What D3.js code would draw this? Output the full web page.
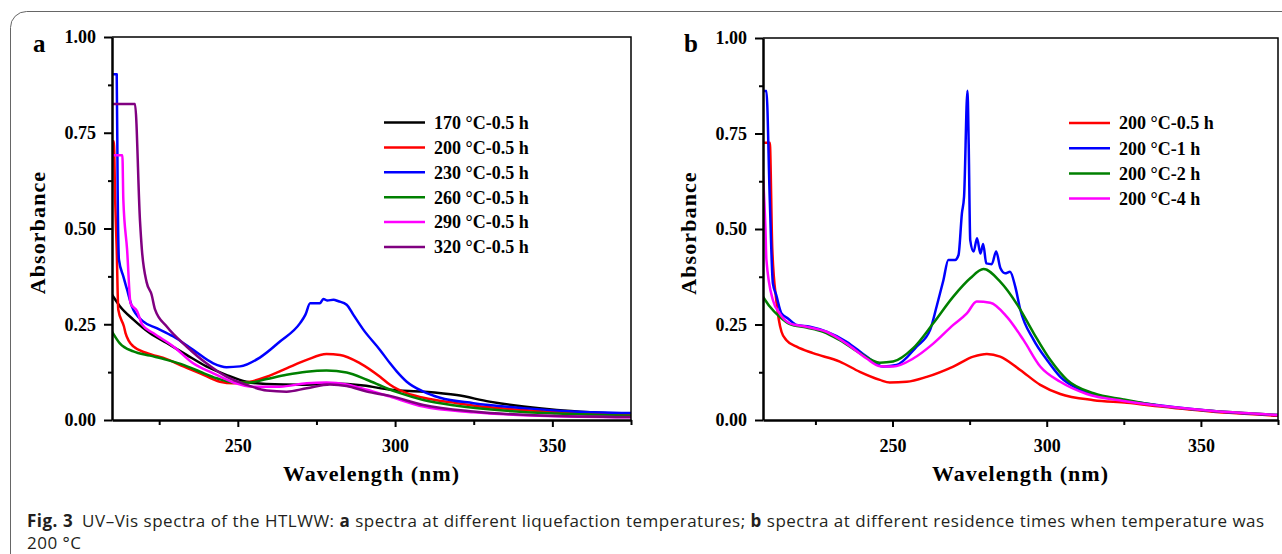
<!DOCTYPE html>
<html>
<head>
<meta charset="utf-8">
<script src="https://cdn.jsdelivr.net/npm/d3@7"></script>
<style>
  body { margin: 0; background: #fff; }
  svg { display: block; }
  .tick text { font-family: "Liberation Serif", "Times New Roman", serif; font-weight: bold; font-size: 18px; fill: #000; }
</style>
</head>
<body>
<figure style="margin:0"></figure>
<script>
// ---- data: [wavelength nm, absorbance] ----
const a170 = [[210,.327],[212.5,.297],[216.8,.262],[222,.227],[227.4,.201],[233.7,.17],[240,.14],[246.3,.118],[252.7,.1],[259,.094],[269.8,.092],[280,.095],[290,.09],[298.4,.079],[309,.074],[319.6,.065],[330,.048],[340.8,.035],[351.4,.026],[362,.02],[375,.015]];
const a200 = [[210.2,.728],[210.6,.728],[211,.576],[211.5,.445],[212,.288],[213.8,.244],[214.3,.227],[216.8,.192],[221,.175],[227.4,.159],[232.7,.14],[238,.122],[244.3,.1],[248.6,.096],[253.9,.1],[259.2,.113],[265.5,.135],[271.9,.157],[278.2,.172],[282.5,.17],[288.9,.148],[295.2,.113],[298.4,.092],[303.7,.07],[309,.058],[319.6,.044],[330.2,.033],[340.8,.026],[351.4,.02],[375,.013]];
const a230 = [[210.2,.903],[211.5,.903],[211.8,.6],[212.2,.419],[213.6,.375],[214.8,.34],[216.3,.297],[220,.257],[224.2,.24],[229.5,.218],[235.8,.183],[242.2,.148],[246.4,.138],[250.7,.14],[257,.163],[263.4,.205],[269.8,.253],[271.5,.275],[273,.305],[276.1,.305],[277.2,.316],[278.5,.312],[280.4,.314],[282,.31],[284.6,.301],[286.7,.275],[289.9,.236],[295.2,.183],[298.4,.148],[300.5,.127],[303.7,.1],[309,.074],[314.3,.058],[324.9,.044],[340.8,.031],[356.7,.022],[375,.018]];
const a260 = [[210,.231],[212.5,.2],[216.8,.179],[222.1,.168],[227.4,.157],[232.7,.144],[238,.126],[243.3,.109],[248.6,.098],[253.9,.098],[259.2,.107],[265.5,.118],[271.9,.126],[278.2,.129],[284.6,.124],[291,.105],[297.3,.083],[301.6,.07],[309,.052],[319.6,.037],[335.5,.024],[351.4,.017],[375,.011]];
const a290 = [[210.2,.691],[213.3,.691],[213.6,.576],[214.8,.445],[215.9,.305],[218,.284],[219.6,.249],[223.1,.227],[229.5,.192],[235.8,.148],[242.2,.122],[248.6,.098],[255,.087],[263.4,.087],[271.9,.096],[278.2,.098],[284.6,.093],[291,.079],[298.4,.061],[309,.035],[324.9,.02],[346,.011],[375,.007]];
const a320 = [[210.2,.825],[217.3,.825],[218.9,.52],[219.5,.445],[221,.36],[222.6,.327],[223.7,.288],[227.4,.244],[233.7,.192],[240,.148],[246.4,.113],[252.7,.092],[259.2,.077],[265.5,.074],[271.9,.083],[279.3,.093],[284.6,.089],[291,.074],[298.4,.063],[309,.039],[324.9,.022],[346,.012],[375,.008]];

const b05 = [[208.3,.726],[210.2,.726],[211,.45],[212.3,.314],[214,.231],[215.6,.209],[218.9,.192],[224.2,.175],[232.9,.153],[239.4,.126],[245.9,.105],[249.1,.098],[254.6,.1],[261.1,.113],[269.7,.14],[276.2,.166],[280.6,.173],[284.9,.166],[291.4,.131],[297.9,.092],[304.4,.068],[315.2,.052],[326,.045],[336.9,.035],[353.1,.022],[375,.011]];
const b1 = [[208.2,.861],[209.1,.861],[210.2,.576],[211.2,.358],[212.3,.327],[214,.279],[216.1,.266],[218.9,.249],[223.2,.244],[228.6,.231],[235.1,.205],[241.6,.166],[247,.14],[251.3,.144],[257.8,.192],[262.2,.236],[264.3,.297],[266.5,.366],[268.1,.419],[270.3,.419],[271.4,.432],[272.5,.541],[273.2,.585],[274.3,.862],[274.7,.724],[275.2,.471],[276.3,.441],[277.4,.476],[278.5,.436],[279.4,.461],[280.4,.41],[282.2,.408],[283.6,.441],[285,.397],[286.5,.384],[288.1,.388],[289.8,.349],[291.4,.29],[295.8,.209],[300.1,.157],[304.4,.113],[310.9,.079],[319.6,.059],[330.4,.045],[353.1,.024],[375,.013]];
const b2 = [[208,.323],[210.2,.297],[213.4,.27],[216.7,.251],[222.1,.242],[227.5,.231],[232.9,.209],[239.4,.175],[245.9,.15],[250.2,.153],[256.7,.188],[263.2,.253],[269.7,.323],[275.2,.371],[279.5,.395],[284.9,.362],[290.6,.3],[295.8,.227],[301.2,.157],[306.6,.105],[315.2,.07],[324.9,.054],[336.9,.037],[353.1,.024],[375,.013]];
const b4 = [[208,.64],[208.8,.5],[209.1,.42],[211.2,.314],[213.4,.279],[216.7,.253],[222.1,.244],[228.6,.231],[235.1,.2],[241.6,.161],[245.9,.141],[250.2,.14],[256.7,.161],[263.2,.2],[269.7,.249],[274.1,.279],[277.3,.31],[281.7,.307],[287.1,.27],[292.5,.209],[297.9,.14],[304.4,.1],[313,.068],[324.9,.05],[336.9,.037],[353.1,.024],[375,.013]];

const labelsA = ["170 °C-0.5 h","200 °C-0.5 h","230 °C-0.5 h","260 °C-0.5 h","290 °C-0.5 h","320 °C-0.5 h"];
const colorsA = ["#000000","#ff0000","#0000ff","#008000","#ff00ff","#800080"];
const labelsB = ["200 °C-0.5 h","200 °C-1 h","200 °C-2 h","200 °C-4 h"];
const colorsB = ["#ff0000","#0000ff","#008000","#ff00ff"];

const yMajor = [0, 0.25, 0.5, 0.75, 1];
const yMinor = [0.125, 0.375, 0.625, 0.875];
const xMajor = [250, 300, 350];
const xMinor = [225, 275, 325, 375];

const width = 1282, height = 554;
const serif = "'Liberation Serif', 'Times New Roman', serif";
const sans = "'Open Sans', 'Noto Sans', sans-serif";

const svg = d3.select("figure").append("svg")
    .attr("width", width).attr("height", height);

svg.append("rect").attr("width", width).attr("height", height).attr("fill", "#fff");

// rounded outer frame
svg.append("rect")
    .attr("x", 10.5).attr("y", 11.5)
    .attr("width", 1320).attr("height", 620)
    .attr("rx", 16)
    .attr("fill", "none").attr("stroke", "#666").attr("stroke-width", 1);

function panel(opts) {
    const {left, right, top, bottom, domain, series, colors, labels, letter, legX, legY, legStep, id} = opts;

    const x = d3.scaleLinear().domain(domain).range([left, right]);
    const y = d3.scaleLinear().domain([0, 1]).range([bottom, top]);
    const g = svg.append("g");

    g.append("clipPath").attr("id", id)
        .append("rect").attr("x", left).attr("y", top).attr("width", right - left).attr("height", bottom - top);

    const line = d3.line()
        .x(d => x(d[0]))
        .y(d => y(d[1]))
        .curve(d3.curveMonotoneX);

    g.append("g").attr("clip-path", "url(#" + id + ")")
        .selectAll("path")
        .data(series)
        .enter()
        .append("path")
        .attr("d", line)
        .attr("fill", "none")
        .attr("stroke", (d, i) => colors[i])
        .attr("stroke-width", 2.5)
        .attr("stroke-linejoin", "round");

    // top and right frame
    g.append("path")
        .attr("d", "M" + left + "," + top + "H" + right + "V" + bottom)
        .attr("fill", "none").attr("stroke", "#000").attr("stroke-width", 1.5);

    // minor ticks
    g.append("g")
        .attr("transform", "translate(" + left + ",0)")
        .call(d3.axisLeft(y).tickValues(yMinor).tickSize(4).tickFormat("").tickSizeOuter(0))
        .call(s => s.select(".domain").remove())
        .selectAll("line").attr("stroke-width", 2);
    g.append("g")
        .attr("transform", "translate(0," + bottom + ")")
        .call(d3.axisBottom(x).tickValues(xMinor).tickSize(5).tickFormat("").tickSizeOuter(0))
        .call(s => s.select(".domain").remove())
        .selectAll("line").attr("stroke-width", 2);

    // major axes
    const yAxis = g.append("g")
        .attr("transform", "translate(" + left + ",0)")
        .call(d3.axisLeft(y).tickValues(yMajor).tickSize(8).tickPadding(8).tickSizeOuter(0).tickFormat(d3.format(".2f")));
    yAxis.select(".domain").attr("stroke-width", 2.5);
    yAxis.selectAll("line").attr("stroke-width", 2);

    const xAxis = g.append("g")
        .attr("transform", "translate(0," + bottom + ")")
        .call(d3.axisBottom(x).tickValues(xMajor).tickSize(7).tickPadding(12).tickSizeOuter(0));
    xAxis.select(".domain").attr("stroke-width", 2.5);
    xAxis.selectAll("line").attr("stroke-width", 2);

    // axis titles
    g.append("text")
        .attr("x", (left + right) / 2).attr("y", 481)
        .attr("text-anchor", "middle")
        .style("font-family", serif).style("font-weight", "bold").style("font-size", "22px")
        .style("letter-spacing", "1px")
        .text("Wavelength (nm)");
    g.append("text")
        .attr("transform", "translate(" + (left - 67) + "," + ((top + bottom) / 2 + 4) + ") rotate(-90)")
        .attr("text-anchor", "middle")
        .style("font-family", serif).style("font-weight", "bold").style("font-size", "22px")
        .style("letter-spacing", "1.1px")
        .text("Absorbance");

    // panel letter
    g.append("text")
        .attr("x", left - 79).attr("y", 52)
        .style("font-family", serif).style("font-weight", "bold").style("font-size", "25px")
        .text(letter);

    // legend
    const leg = g.append("g").selectAll("g")
        .data(labels)
        .enter()
        .append("g")
        .attr("transform", (d, i) => "translate(" + legX + "," + (legY + i * legStep) + ")");
    leg.append("line")
        .attr("x1", 0).attr("x2", 41)
        .attr("stroke", (d, i) => colors[i]).attr("stroke-width", 2.5);
    leg.append("text")
        .attr("x", 50).attr("dy", "0.35em")
        .style("font-family", serif).style("font-weight", "bold").style("font-size", "18px")
        .text(d => d);
}

panel({left: 112, right: 631, top: 37, bottom: 420, domain: [210, 375],
    series: [a170, a200, a230, a260, a290, a320], colors: colorsA, labels: labelsA,
    letter: "a", legX: 384, legY: 122.5, legStep: 24.9, id: "clipA"});

panel({left: 763, right: 1278, top: 38, bottom: 420, domain: [208, 375],
    series: [b05, b1, b2, b4], colors: colorsB, labels: labelsB,
    letter: "b", legX: 1069, legY: 123, legStep: 25.2, id: "clipB"});

// caption
const cap = svg.append("text")
    .attr("x", 27).attr("y", 527)
    .style("font-family", sans).style("letter-spacing", "0.5px")
    .style("font-size", "17px").style("fill", "#231f20");
cap.append("tspan").style("font-weight", "bold").text("Fig. 3");
cap.append("tspan").text("\u2002UV\u2013Vis spectra of the HTLWW: ");
cap.append("tspan").style("font-weight", "bold").text("a");
cap.append("tspan").text(" spectra at different liquefaction temperatures; ");
cap.append("tspan").style("font-weight", "bold").text("b");
cap.append("tspan").text(" spectra at different residence times when temperature was");
svg.append("text")
    .attr("x", 27).attr("y", 549)
    .style("font-family", sans).style("letter-spacing", "0.5px")
    .style("font-size", "17px").style("fill", "#231f20")
    .text("200 \u00b0C");
</script>
</body>
</html>
